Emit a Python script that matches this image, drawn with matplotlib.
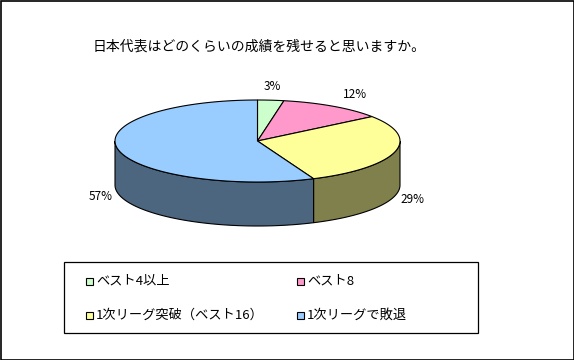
import matplotlib
matplotlib.use("Agg")
import matplotlib.pyplot as plt
from matplotlib.patches import Polygon, Rectangle
import numpy as np

plt.rcParams["font.family"] = ["Noto Sans CJK JP", "DejaVu Sans"]

# ── data ─────────────────────────────────────────────────────────────────────
TITLE = "日本代表はどのくらいの成績を残せると思いますか。"
labels = ["ベスト4以上", "ベスト8", "1次リーグ突破（ベスト16）", "1次リーグで敗退"]
values = [3, 12, 29, 57]  # percent
top_colors = ["#ccffcc", "#ff99cc", "#ffff99", "#99ccff"]
side_colors = ["#668066", "#804c66", "#80804c", "#4c6680"]

# ── geometry (pixel space) ───────────────────────────────────────────────────
W, H = 574, 360
CX, CY = 257.5, 141
RX, RY = 142.5, 41
DEPTH = 44

fig = plt.figure(figsize=(W / 100, H / 100), dpi=100)
ax = fig.add_axes([0, 0, 1, 1])
ax.set_xlim(0, W)
ax.set_ylim(H, 0)
ax.axis("off")

def pt(t, dy=0):
    # t in degrees, clockwise from 12 o'clock
    r = np.radians(t)
    return CX + RX * np.sin(r), CY - RY * np.cos(r) + dy

def arc(a0, a1, dy=0):
    ts = np.linspace(a0, a1, max(int(abs(a1 - a0)) * 2, 2))
    return [pt(t, dy) for t in ts]

total = sum(values)
bounds = np.concatenate([[0], np.cumsum(values) / total * 360])

# sides (front half only: 90..270 deg)
for i in range(len(values)):
    a0, a1 = max(bounds[i], 90), min(bounds[i + 1], 270)
    if a1 <= a0:
        continue
    poly = arc(a0, a1) + arc(a0, a1, DEPTH)[::-1]
    ax.add_patch(Polygon(poly, closed=True, facecolor=side_colors[i],
                         edgecolor="black", lw=0.8))

# tops
for i in range(len(values)):
    poly = [(CX, CY)] + arc(bounds[i], bounds[i + 1])
    ax.add_patch(Polygon(poly, closed=True, facecolor=top_colors[i],
                         edgecolor="black", lw=0.8))

# percent labels
for i, v in enumerate(values):
    mid = np.radians((bounds[i] + bounds[i + 1]) / 2)
    s, c = np.sin(mid), np.cos(mid)
    x = CX + (RX + 18) * s + (12 if 0.3 < s < 0.7 else 0)
    y = CY - (RY + 14) * c + (DEPTH if c < 0 else 0)
    ax.text(x, y, f"{v}%", ha="center", va="center", fontsize=8.5)

# title
ax.text(259, 47, TITLE, ha="center", va="center", fontsize=10)

# legend
ax.add_patch(Rectangle((64, 262), 414, 71, facecolor="white",
                       edgecolor="black", lw=0.9))
for i, lab in enumerate(labels):
    col, row = i % 2, i // 2
    x = 86 + col * 211
    y = 281 + row * 34
    ax.add_patch(Rectangle((x, y - 3.5), 7, 7, facecolor=top_colors[i],
                           edgecolor="black", lw=0.8))
    ax.text(x + 10, y, lab, ha="left", va="center", fontsize=9.5)

# outer frame
ax.add_patch(Rectangle((0.5, 0.5), W - 1, H - 1, fill=False,
                       edgecolor="black", lw=1.2))

fig.savefig("out.png", dpi=100)
